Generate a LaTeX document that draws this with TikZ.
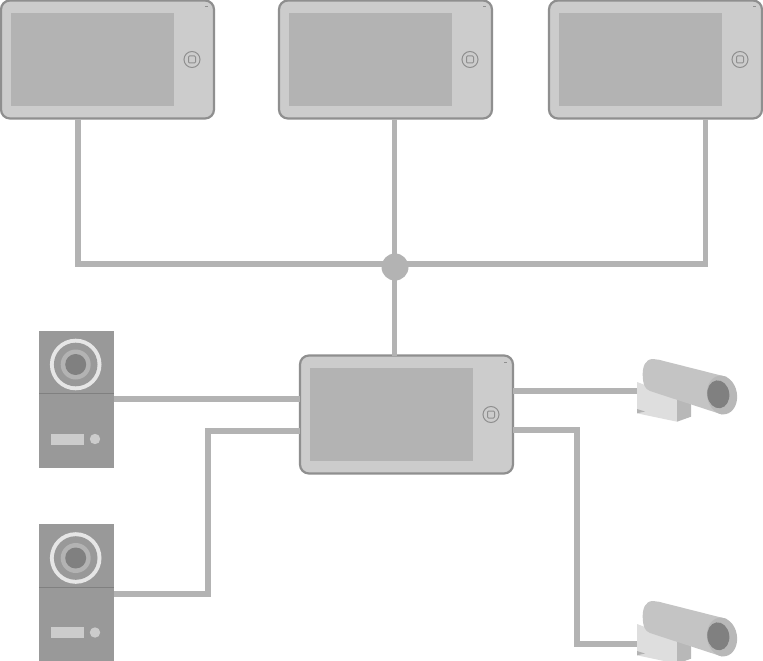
\documentclass[tikz,border=0pt]{standalone}
\usetikzlibrary{calc}
\definecolor{wirec}{HTML}{B3B3B3}
\definecolor{bodyc}{HTML}{CCCCCC}
\definecolor{framec}{HTML}{8F8F8F}
\definecolor{doorc}{HTML}{999999}
\definecolor{lensc}{HTML}{808080}
\definecolor{ringc}{HTML}{E6E6E6}
\definecolor{baselc}{HTML}{DEDEDE}
\definecolor{tubec}{HTML}{C4C4C4}
\definecolor{sidec}{HTML}{B8B8B8}
\tikzset{
  wire/.style={draw=wirec,line width=5.8pt,line cap=butt,line join=miter},
  monbody/.style={draw=framec,fill=bodyc,line width=2.2pt,rounded corners=9pt,minimum width=213pt,minimum height=118pt,inner sep=0pt,outer sep=0pt,anchor=north west},
  doorbody/.style={fill=doorc,draw=none,minimum width=75pt,minimum height=137pt,inner sep=0pt,anchor=north west},
  hub/.style={circle,fill=wirec,draw=none,minimum size=27pt,inner sep=0pt},
  cambox/.style={minimum width=98pt,minimum height=76pt,inner sep=0pt,anchor=north west}
}
\newcommand{\monitor}[3]{% name, x, y
  \node[monbody] (#1) at (#2+1,#3+0.5) {};
  \fill[wirec] (#2+10.5,#3+13) rectangle (#2+174,#3+106);
  \draw[framec,line width=1pt] (#2+192,#3+59.5) circle (8pt);
  \draw[framec,line width=1pt,rounded corners=1pt] (#2+188.5,#3+56) rectangle (#2+195.5,#3+63);
  \fill[framec] (#2+204.5,#3+6.5) rectangle (#2+207.5,#3+7.5);
}
\newcommand{\doorunit}[3]{% name, x, y
  \node[doorbody] (#1) at (#2,#3) {};
  \draw[lensc,line width=0.6pt] (#2,#3+63) -- (#2+75,#3+63);
  \fill[ringc] (#2+36.7,#3+34) circle (25.8pt);
  \fill[doorc] (#2+36.7,#3+34) circle (21.8pt);
  \fill[wirec] (#2+36.7,#3+34) circle (15pt);
  \fill[lensc] (#2+36.7,#3+34) circle (10.5pt);
  \fill[bodyc] (#2+11.7,#3+103) rectangle (#2+45,#3+114);
  \fill[bodyc] (#2+56,#3+108.5) circle (5.2pt);
}
\newcommand{\camera}[3]{% name, x, y
  \node[cambox] (#1) at (#2,#3) {};
  \fill[baselc] (#2,#3+23) -- (#2+40,#3+38) -- (#2+40,#3+62.7) -- (#2,#3+54.3) -- cycle;
  \fill[wirec] (#2+0,#3+50) -- (#2+8,#3+52.5) -- (#2,#3+54.3) -- cycle;
  \fill[sidec] (#2+40,#3+38) -- (#2+54,#3+45) -- (#2+54,#3+57.7) -- (#2+40,#3+62.7) -- cycle;
  \fill[tubec] (#2+16,#3+0) .. controls (#2+8,#3+0) and (#2+5.5,#3+8) .. (#2+5.7,#3+16) .. controls (#2+6,#3+26) and (#2+8,#3+30) .. (#2+13,#3+32) -- (#2+85,#3+55.5) -- (#2+90,#3+18) -- (#2+22,#3+0.8) -- cycle;
  \fill[sidec,rotate around={10:(#2+85,#3+36)}] (#2+85,#3+36) ellipse (15pt and 19.5pt);
  \fill[lensc,rotate around={8:(#2+81.3,#3+35.3)}] (#2+81.3,#3+35.3) ellipse (11pt and 14pt);
}
\begin{document}
\begin{tikzpicture}[x=1pt,y=-1pt]
\useasboundingbox (0,0) rectangle (763,661);
\fill[white] (0,0) rectangle (763,661);
% devices
\monitor{mone}{0}{0}
\monitor{mtwo}{278}{0}
\monitor{mthree}{548}{0}
\monitor{mcenter}{299}{355}
\doorunit{dtop}{39}{330.5}
\doorunit{dbot}{39}{524}
\camera{ctop}{637}{359}
\camera{cbot}{637}{601}
\node[hub] (hub) at (395,267) {};
% guides
\coordinate (gxa) at (78,0);
\coordinate (gxb) at (705.5,0);
\coordinate (gxc) at (394.5,0);
\coordinate (gya) at (0,264);
\coordinate (gyb) at (0,399);
\coordinate (gyc) at (0,431);
\coordinate (gyd) at (0,391);
\coordinate (gye) at (0,430);
\coordinate (gyf) at (0,594);
\coordinate (gyg) at (0,644);
% anchor points on the devices
\coordinate (mone p) at (mone.south -| gxa);
\coordinate (mthree p) at (mthree.south -| gxb);
\coordinate (bus l) at (gxc |- gya);
\coordinate (mc w1) at (mcenter.west |- gyb);
\coordinate (mc w2) at (mcenter.west |- gyc);
\coordinate (mc e1) at (mcenter.east |- gyd);
\coordinate (mc e2) at (mcenter.east |- gye);
\coordinate (d1 e) at (dtop.east |- gyb);
\coordinate (d2 e) at (dbot.east |- gyf);
\coordinate (c1 w) at (ctop.west |- gyd);
\coordinate (c2 w) at (cbot.west |- gyg);
% connectors
\draw[wire] (mone p) |- (bus l) -| (mthree p);
\draw[wire] (mtwo.south -| gxc) -- (mcenter.north -| gxc);
\draw[wire] (d1 e) -- (mc w1);
\draw[wire] (d2 e) -- (208,594) -- (208,431) -- (mc w2);
\draw[wire] (mc e1) -- (c1 w);
\draw[wire] (mc e2) -- (577,430) -- (577,644) -- (c2 w);
\end{tikzpicture}
\end{document}
